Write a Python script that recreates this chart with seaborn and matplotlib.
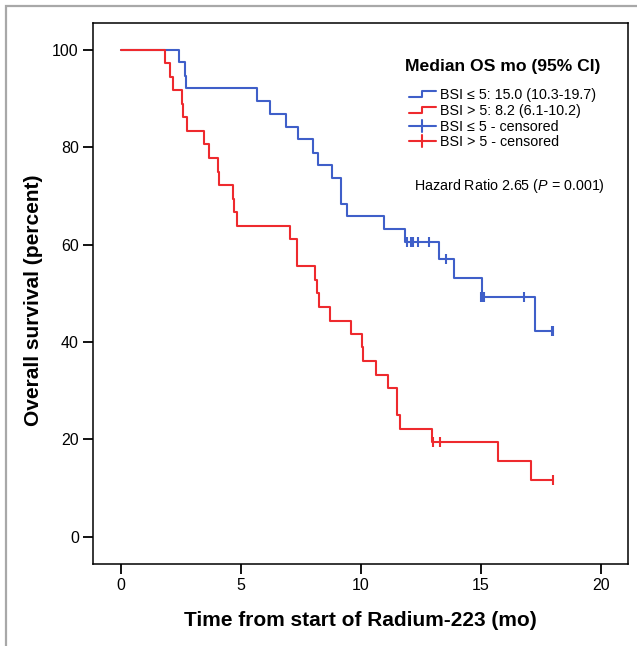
import numpy as np
import pandas as pd
import matplotlib
matplotlib.use("Agg")
import matplotlib.pyplot as plt
import seaborn as sns
from matplotlib.lines import Line2D
from matplotlib.legend_handler import HandlerBase
from matplotlib.patches import Rectangle

# ---------------- data ----------------
groups = ["BSI ≤ 5", "BSI > 5"]

low_times = [0, 2.40, 2.68, 2.70, 5.65, 6.21, 6.88, 7.39, 7.99, 8.22, 8.80,
             9.15, 9.17, 9.43, 10.97, 11.83, 13.25, 13.89, 15.03, 17.25, 18.0]
low_surv = [100, 97.4, 94.7, 92.1, 89.5, 86.8, 84.2, 81.6, 78.9, 76.3, 73.7,
            71.1, 68.4, 65.8, 63.2, 60.5, 57.0, 53.2, 49.3, 42.2, 42.2]
low_cens_t = [11.93, 12.08, 12.15, 12.39, 12.83, 13.54, 14.99, 15.07, 15.13,
              16.79, 17.95, 18.0]
low_cens_s = [60.5, 60.5, 60.5, 60.5, 60.5, 57.0, 49.3, 49.3, 49.3,
              49.3, 42.2, 42.2]

high_times = [0, 1.82, 2.05, 2.18, 2.54, 2.60, 2.74, 3.47, 3.67, 4.04, 4.07,
              4.65, 4.71, 4.82, 7.04, 7.32, 7.34, 8.08, 8.15, 8.26, 8.71,
              9.57, 10.05, 10.07, 10.61, 11.11, 11.49, 11.51, 11.62, 12.98,
              15.72, 17.08, 18.0]
high_surv = [100, 97.2, 94.4, 91.7, 88.9, 86.1, 83.3, 80.6, 77.8, 75.0, 72.2,
             69.4, 66.7, 63.9, 61.1, 58.3, 55.6, 52.8, 50.0, 47.2, 44.4,
             41.7, 38.9, 36.1, 33.3, 30.6, 27.8, 25.0, 22.2, 19.4,
             15.5, 11.7, 11.7]
high_cens_t = [13.0, 13.3, 18.0]
high_cens_s = [19.4, 19.4, 11.7]

legend_labels = ["BSI ≤ 5: 15.0 (10.3-19.7)", "BSI > 5: 8.2 (6.1-10.2)",
                 "BSI ≤ 5 - censored", "BSI > 5 - censored"]
legend_title = "Median OS mo (95% CI)"
hr_text = "Hazard Ratio 2.65 ($\\mathit{P}$ = 0.001)"
x_ticks = [0, 5, 10, 15, 20]
y_ticks = [0, 20, 40, 60, 80, 100]
x_label = "Time from start of Radium-223 (mo)"
y_label = "Overall survival (percent)"

colors = {"BSI ≤ 5": "#3F5FC9", "BSI > 5": "#EE2A2E"}

# ---------------- tables ----------------
curves = pd.concat([
    pd.DataFrame({"time": low_times, "surv": low_surv, "group": groups[0]}),
    pd.DataFrame({"time": high_times, "surv": high_surv, "group": groups[1]}),
], ignore_index=True)
censors = pd.concat([
    pd.DataFrame({"time": low_cens_t, "surv": low_cens_s, "group": groups[0]}),
    pd.DataFrame({"time": high_cens_t, "surv": high_cens_s, "group": groups[1]}),
], ignore_index=True)

# ---------------- figure ----------------
sns.set_theme(style="white")
plt.rcParams["font.family"] = ["Liberation Sans", "DejaVu Sans"]
plt.rcParams["mathtext.fontset"] = "custom"
plt.rcParams["mathtext.it"] = "Liberation Sans:italic"
plt.rcParams["mathtext.rm"] = "Liberation Sans"
plt.rcParams["text.color"] = "black"
plt.rcParams["axes.labelcolor"] = "black"
plt.rcParams["xtick.color"] = "black"
plt.rcParams["ytick.color"] = "black"

W, H = 637, 646
fig = plt.figure(figsize=(W / 100, H / 100), dpi=100)
fig.patch.set_facecolor("white")
L, R, T, B = 93, 628, 23, 564
ax = fig.add_axes([L / W, 1 - B / H, (R - L) / W, (B - T) / H])

LW = 1.5
for g in groups:
    sub = curves[curves["group"] == g]
    sns.lineplot(data=sub, x="time", y="surv", ax=ax, color=colors[g],
                 drawstyle="steps-post", estimator=None, sort=False,
                 linewidth=LW, legend=False)
    csub = censors[censors["group"] == g]
    sns.scatterplot(data=csub, x="time", y="surv", ax=ax, marker="|",
                    color=colors[g], s=50, linewidth=LW, legend=False)

ax.set_xlim(-1.17, 21.13)
ax.set_ylim(-5.6, 105.5)
ax.set_xticks(x_ticks)
ax.set_yticks(y_ticks)
ax.set_xticklabels([str(v) for v in x_ticks])
ax.set_yticklabels([str(v) for v in y_ticks])
ax.tick_params(axis="both", direction="out", length=7.2, width=1.3,
               colors="black", labelcolor="black", labelsize=11.5, pad=3,
               bottom=True, left=True)
for s in ax.spines.values():
    s.set_visible(True)
    s.set_color("black")
    s.set_linewidth(1.1)
ax.set_xlabel(x_label, fontsize=15, fontweight="bold", color="black")
ax.set_ylabel(y_label, fontsize=15, fontweight="bold", color="black")
ax.xaxis.set_label_coords(0.5, -(620 - B) / (B - T), transform=ax.transAxes)
ax.yaxis.set_label_coords(-(L - 33) / (R - L), (B - 300) / (B - T),
                          transform=ax.transAxes)
ax.xaxis.label.set_va("center")
ax.yaxis.label.set_va("center")
ax.grid(False)

# ---------------- legend ----------------
class StepHandler(HandlerBase):
    def create_artists(self, legend, orig_handle, xdescent, ydescent,
                       width, height, fontsize, trans):
        x0, x1 = -xdescent, -xdescent + width
        xm = x0 + 0.5 * width
        ylo = -ydescent + 0.2 * height
        yhi = -ydescent + 0.8 * height
        ln = Line2D([x0, xm, xm, x1], [ylo, ylo, yhi, yhi],
                    color=orig_handle.get_color(), linewidth=LW,
                    transform=trans)
        return [ln]

class CrossHandler(HandlerBase):
    def create_artists(self, legend, orig_handle, xdescent, ydescent,
                       width, height, fontsize, trans):
        x0, x1 = -xdescent, -xdescent + width
        yc = -ydescent + 0.5 * height
        h = Line2D([x0, x1], [yc, yc], color=orig_handle.get_color(),
                   linewidth=LW, transform=trans)
        xm = x0 + 0.5 * width
        v = Line2D([xm, xm], [yc - 0.6 * height, yc + 0.6 * height],
                   color=orig_handle.get_color(), linewidth=LW,
                   transform=trans)
        return [h, v]

class StepLine(Line2D):
    pass

class CrossLine(Line2D):
    pass

handles = [StepLine([], [], color=colors[groups[0]]),
           StepLine([], [], color=colors[groups[1]]),
           CrossLine([], [], color=colors[groups[0]]),
           CrossLine([], [], color=colors[groups[1]])]
leg = ax.legend(handles, legend_labels, loc="upper left",
                bbox_to_anchor=(405 / W, 1 - 59 / H),
                bbox_transform=fig.transFigure, frameon=False,
                fontsize=10.3, title=legend_title,
                title_fontproperties={"weight": "bold", "size": 12.6},
                handler_map={StepLine: StepHandler(), CrossLine: CrossHandler()},
                handlelength=1.85, handletextpad=0.3, labelspacing=0.13,
                borderpad=0, borderaxespad=0)
leg._legend_box.sep = 10
for t in leg.get_texts():
    t.set_color("black")
leg.get_title().set_color("black")

fig.text(414 / W, 1 - 186 / H, hr_text, fontsize=10.3, ha="left",
         va="center", color="black")

# outer grey frame (only top and left edges fall inside the picture)
fig.patches.append(Rectangle((6 / W, -0.1), 1.2, 1 - 6 / H + 0.1,
                             transform=fig.transFigure, fill=False,
                             edgecolor="#a8a8a8", linewidth=1.6))

fig.savefig("out.png", dpi=100, facecolor="white")
